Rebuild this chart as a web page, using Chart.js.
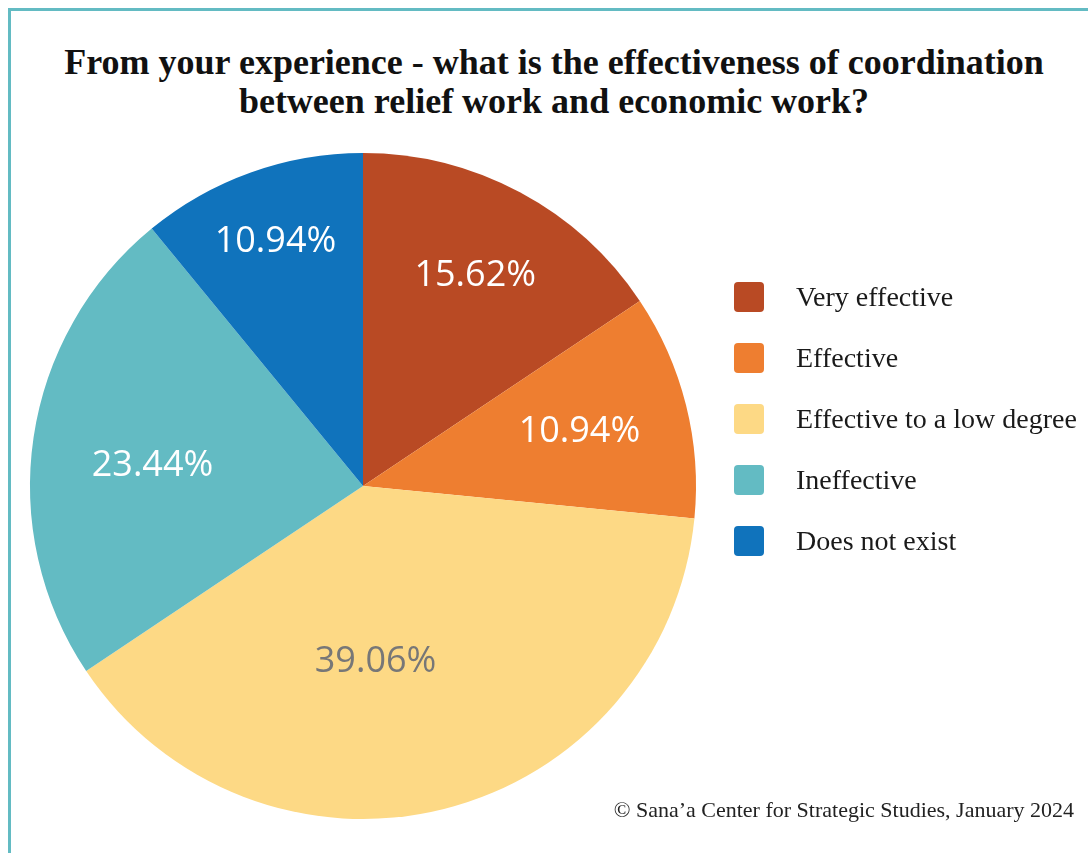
<!DOCTYPE html>
<html lang="en">
<head>
<meta charset="utf-8">
<title>Effectiveness of coordination</title>
<script src="https://cdn.jsdelivr.net/npm/chart.js@4.4.1/dist/chart.umd.min.js"></script>
<style>
  html, body { margin: 0; padding: 0; background: #fff; }
  #wrap { position: relative; width: 1088px; height: 853px; overflow: hidden; }
  #frame { position: absolute; left: 8px; top: 8px; width: 1200px; height: 1000px;
           border-top: 3px solid #63bbc3; border-left: 3px solid #63bbc3; box-sizing: border-box; }
  #title { position: absolute; left: 0; width: 1108px; top: 43px; text-align: center;
           font: bold 36px "Liberation Serif", serif; line-height: 39px; color: #111; }
  #chart { position: absolute; left: 0; top: 0; }
  #legend { position: absolute; left: 734px; top: 282px; }
  .item { height: 61px; display: flex; align-items: flex-start; }
  .box { width: 30px; height: 30px; border-radius: 4px; margin-right: 32px; }
  .txt { font: 28px "Liberation Serif", serif; color: #1a1a1a; line-height: 30px; }
  #source { position: absolute; right: 14px; top: 797px; font: 22px "Liberation Serif", serif; color: #222; }
</style>
</head>
<body>
<div id="wrap">
  <div id="frame"></div>
  <div id="title">From your experience - what is the effectiveness of coordination<br>between relief work and economic work?</div>
  <canvas id="chart" width="1088" height="853"></canvas>
  <div id="legend"></div>
  <div id="source">© Sana’a Center for Strategic Studies, January 2024</div>
</div>
<script>
var categories = ['Very effective', 'Effective', 'Effective to a low degree', 'Ineffective', 'Does not exist'];
var shares = [15.62, 10.94, 39.06, 23.44, 10.94];
var colors = ['#b94a24', '#ee7e30', '#fdd985', '#63bbc3', '#1073bc'];
var labelColors = ['#ffffff', '#ffffff', '#777777', '#ffffff', '#ffffff'];

// label placement relative to each slice: fraction of radius, angle shift in degrees
var labelFrac = [0.715, 0.67, 0.53, 0.635, 0.78];
var labelShift = [0, 0, 10, -3, 0];

var legend = document.getElementById('legend');
categories.forEach(function (c, i) {
  var row = document.createElement('div');
  row.className = 'item';
  row.innerHTML = '<div class="box" style="background:' + colors[i] + '"></div><div class="txt">' + c + '</div>';
  legend.appendChild(row);
});

var pctLabels = {
  id: 'pctLabels',
  afterDatasetsDraw: function (chart) {
    var ctx = chart.ctx;
    var meta = chart.getDatasetMeta(0);
    ctx.save();
    ctx.font = '36px "Open Sans", sans-serif';
    ctx.textAlign = 'center';
    ctx.textBaseline = 'middle';
    meta.data.forEach(function (arc, i) {
      var mid = (arc.startAngle + arc.endAngle) / 2 + labelShift[i] * Math.PI / 180;
      var r = arc.outerRadius * labelFrac[i];
      ctx.fillStyle = labelColors[i];
      ctx.fillText(shares[i].toFixed(2) + '%', arc.x + Math.cos(mid) * r, arc.y + Math.sin(mid) * r);
    });
    ctx.restore();
  }
};

new Chart(document.getElementById('chart').getContext('2d'), {
  type: 'pie',
  data: {
    labels: categories,
    datasets: [{ data: shares, backgroundColor: colors, borderWidth: 0 }]
  },
  options: {
    responsive: false,
    animation: false,
    layout: { padding: { left: 30, top: 153, right: 392, bottom: 34 } },
    plugins: { legend: { display: false }, tooltip: { enabled: false } }
  },
  plugins: [pctLabels]
});
</script>
</body>
</html>
